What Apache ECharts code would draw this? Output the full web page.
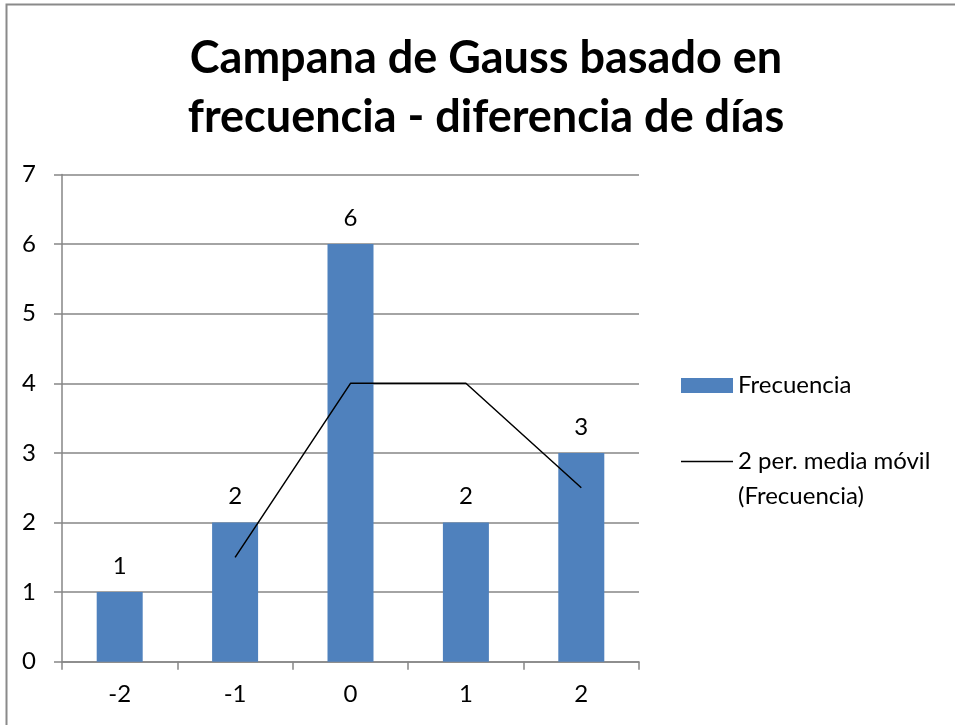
<!DOCTYPE html>
<html>
<head>
<meta charset="utf-8">
<script src="https://cdn.jsdelivr.net/npm/echarts@6/dist/echarts.min.js"></script>
<style>
  html, body { margin: 0; padding: 0; background: #fff; }
  #chart { width: 955px; height: 725px; }
</style>
</head>
<body>
<div id="chart"></div>
<script>
// Day-difference categories and how often each one occurs
const categories = ['-2', '-1', '0', '1', '2'];
const frecuencia = [1, 2, 6, 2, 3];
// 2-period moving average of the frequency (first period has no value)
const mediaMovil = [null, 1.5, 4, 4, 2.5];
const yTicks = { min: 0, max: 7, interval: 1 };

const FONT = 'Lato';
const axisGray = '#868686';
const LABEL_SIZE = 24;

const chart = echarts.init(document.getElementById('chart'), null, { renderer: 'canvas' });

chart.setOption({
  backgroundColor: '#fff',
  animation: false,
  textStyle: { fontFamily: FONT },
  title: {
    text: 'Campana de Gauss basado en\nfrecuencia - diferencia de días',
    left: 486,
    textAlign: 'center',
    top: 29,
    padding: 0,
    textStyle: {
      fontFamily: FONT,
      fontSize: 45,
      fontWeight: 'bold',
      color: '#000',
      lineHeight: 59
    }
  },
  graphic: [{
    type: 'rect',
    silent: true,
    shape: { x: 6.5, y: 4.5, width: 1200, height: 1200 },
    style: { fill: null, stroke: '#8a8a8a', lineWidth: 2 }
  }],
  legend: [{
    data: ['Frecuencia'],
    orient: 'vertical',
    left: 681,
    top: 373.5,
    padding: 0,
    itemWidth: 52,
    itemHeight: 15,
    itemGap: 0,
    textStyle: { fontFamily: FONT, fontSize: LABEL_SIZE, color: '#000' },
    icon: 'rect'
  }, {
    data: [{ name: '2 per. media móvil\n(Frecuencia)', icon: 'rect', itemStyle: { color: '#000' } }],
    orient: 'vertical',
    left: 681,
    top: 409,
    padding: 0,
    itemWidth: 52,
    itemHeight: 1.5,
    // leading blank line keeps the first text line level with the key line
    formatter: function (name) { return '\n' + name; },
    textStyle: { fontFamily: FONT, fontSize: LABEL_SIZE, color: '#000', lineHeight: 35 }
  }],
  grid: {
    left: 62,
    right: 316,
    top: 174.5,
    bottom: 63.3,
    containLabel: false
  },
  xAxis: {
    type: 'category',
    data: categories,
    axisLine: { lineStyle: { color: axisGray, width: 1.5 } },
    axisTick: { show: true, alignWithLabel: false, length: 8, lineStyle: { color: axisGray, width: 1.5 } },
    axisLabel: { color: '#000', fontSize: LABEL_SIZE, margin: 21, fontFamily: FONT },
    splitLine: { show: false }
  },
  yAxis: {
    type: 'value',
    min: yTicks.min,
    max: yTicks.max,
    interval: yTicks.interval,
    axisLine: { show: true, lineStyle: { color: axisGray, width: 1.5 } },
    axisTick: { show: true, length: 8, lineStyle: { color: axisGray, width: 1.5 } },
    axisLabel: { color: '#000', fontSize: LABEL_SIZE, margin: 26, fontFamily: FONT },
    splitLine: { lineStyle: { color: axisGray, width: 1.5 } }
  },
  series: [{
    name: 'Frecuencia',
    type: 'bar',
    data: frecuencia,
    barWidth: 46,
    itemStyle: { color: '#4f81bd' },
    label: {
      show: true,
      position: 'top',
      distance: 14,
      color: '#000',
      fontSize: LABEL_SIZE,
      fontFamily: FONT
    }
  }, {
    name: '2 per. media móvil\n(Frecuencia)',
    type: 'line',
    data: mediaMovil,
    symbol: 'none',
    connectNulls: false,
    lineStyle: { color: '#000', width: 1.5 },
    itemStyle: { color: '#000' }
  }]
});
</script>
</body>
</html>
